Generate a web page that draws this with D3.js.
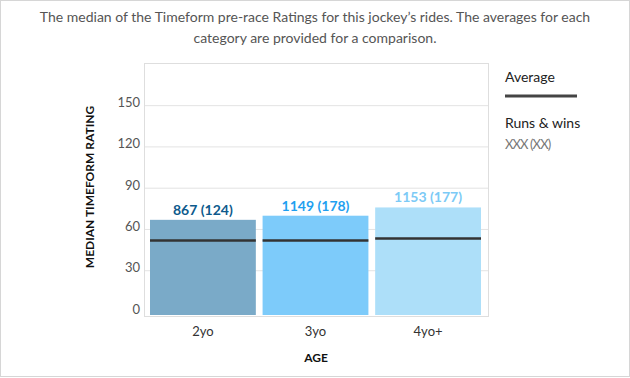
<!DOCTYPE html>
<html><head><meta charset="utf-8">
<script src="https://cdn.jsdelivr.net/npm/d3@7"></script>
<style>
html,body{margin:0;padding:0;background:#fff;}
svg{display:block;font-family:Lato,"Open Sans",sans-serif;}
</style></head>
<body>
<svg id="c" width="630" height="378"></svg>
<script>
const categories = ["2yo", "3yo", "4yo+"];
const medians = [67, 70, 76];
const averages = [52, 52, 53.5];
const runs = [867, 1149, 1153];
const wins = [124, 178, 177];
const yTicks = [0, 30, 60, 90, 120, 150];
const barColors = ["#7aaac8", "#7dcbfa", "#addff9"];
const labelColors = ["#0d5a8c", "#1f9ff0", "#7ccaf6"];

const svg = d3.select("#c");
svg.append("rect").attr("x",0.5).attr("y",0.5).attr("width",629).attr("height",376)
  .attr("fill","#fff").attr("stroke","#d6d6d6");

svg.append("text").attr("x",315).attr("y",22).attr("text-anchor","middle")
  .attr("font-size",14).attr("fill","#555")
  .text("The median of the Timeform pre-race Ratings for this jockey\u2019s rides. The averages for each");
svg.append("text").attr("x",315).attr("y",43).attr("text-anchor","middle")
  .attr("font-size",14).attr("fill","#555")
  .text("category are provided for a comparison.");

const plot = {l:144, r:488, t:63, b:316};
const y = d3.scaleLinear().domain([0,181]).range([312, plot.t]);
const x = d3.scaleBand().domain(categories).range([150,481]).paddingInner(0.06).paddingOuter(0);

const g = svg.append("g");
g.selectAll(".grid").data(yTicks.filter(d=>d>0)).join("line")
  .attr("x1",plot.l).attr("x2",plot.r).attr("y1",d=>y(d)).attr("y2",d=>y(d))
  .attr("stroke","#e3e3e3").attr("stroke-width",1);
g.append("rect").attr("x",plot.l+0.5).attr("y",plot.t+0.5).attr("width",plot.r-plot.l).attr("height",plot.b-plot.t)
  .attr("fill","none").attr("stroke","#dedede");

g.selectAll(".yt").data(yTicks).join("text")
  .attr("x",140).attr("y",d=>y(d)-3).attr("dy","0.35em").attr("text-anchor","end")
  .attr("font-size",13).attr("fill","#555").text(d=>d);

g.selectAll(".bar").data(categories).join("rect")
  .attr("x",d=>x(d)).attr("width",x.bandwidth())
  .attr("y",(d,i)=>y(medians[i])).attr("height",(d,i)=>plot.b-1-y(medians[i]))
  .attr("fill",(d,i)=>barColors[i]);

g.selectAll(".avg").data(categories).join("line")
  .attr("x1",d=>x(d)).attr("x2",d=>x(d)+x.bandwidth())
  .attr("y1",(d,i)=>y(averages[i])).attr("y2",(d,i)=>y(averages[i]))
  .attr("stroke","#333").attr("stroke-width",2.5);

g.selectAll(".bl").data(categories).join("text")
  .attr("x",d=>x(d)+x.bandwidth()/2).attr("y",(d,i)=>y(medians[i])-5)
  .attr("text-anchor","middle").attr("font-size",14).attr("font-weight","bold")
  .attr("fill",(d,i)=>labelColors[i])
  .text((d,i)=>`${runs[i]} (${wins[i]})`);

g.selectAll(".xl").data(categories).join("text")
  .attr("x",d=>x(d)+x.bandwidth()/2).attr("y",336)
  .attr("text-anchor","middle").attr("font-size",13).attr("fill","#333").text(d=>d);

svg.append("text").attr("x",316).attr("y",362).attr("text-anchor","middle")
  .attr("font-size",12).attr("font-weight","bold").attr("fill","#111").text("AGE");
svg.append("text").attr("transform","translate(94,187) rotate(-90)").attr("text-anchor","middle")
  .attr("font-size",12).attr("font-weight","bold").attr("fill","#111").text("MEDIAN TIMEFORM RATING");

svg.append("text").attr("x",505).attr("y",82).attr("font-size",14).attr("fill","#222").text("Average");
svg.append("line").attr("x1",505).attr("x2",577).attr("y1",96).attr("y2",96).attr("stroke","#444").attr("stroke-width",3);
svg.append("text").attr("x",505).attr("y",128).attr("font-size",14).attr("fill","#222").text("Runs & wins");
svg.append("text").attr("x",505).attr("y",149).attr("font-size",13).attr("fill","#777").attr("letter-spacing",-0.9).text("XXX (XX)");
</script>
</body></html>
